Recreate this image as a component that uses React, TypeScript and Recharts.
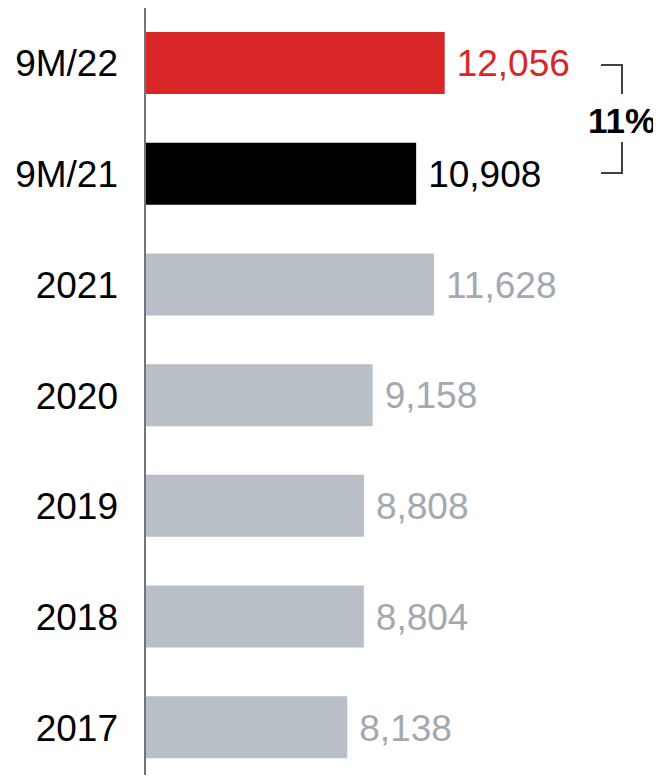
import React from 'react';
import { BarChart, Bar, XAxis, YAxis, Cell, LabelList } from 'recharts';

const categories = ['9M/22', '9M/21', '2021', '2020', '2019', '2018', '2017'];
const values = [12056, 10908, 11628, 9158, 8808, 8804, 8138];
const barColors = ['#d92727', '#000000', '#b8bfc6', '#b8bfc6', '#b8bfc6', '#b8bfc6', '#b8bfc6'];
const labelColors = ['#d92727', '#000000', '#a3a9b0', '#a3a9b0', '#a3a9b0', '#a3a9b0', '#a3a9b0'];
const growthLabel = '11%';

const data = categories.map((c, i) => ({ name: c, value: values[i] }));

const FONT = 'Arial, "Liberation Sans", sans-serif';

const ValueLabel = (props: any) => {
  const { x, y, width, height, index, value } = props;
  return (
    <text
      x={x + width + 12}
      y={y + height / 2}
      dy="0.36em"
      fill={labelColors[index]}
      fontSize={37}
      fontFamily={FONT}
      textAnchor="start"
    >
      {Number(value).toLocaleString('en-US')}
    </text>
  );
};

export default function App() {
  return (
    <div style={{ position: 'relative', width: 661, height: 783, margin: -8, overflow: 'hidden' }}>
      <BarChart
        width={661}
        height={783}
        data={data}
        layout="vertical"
        margin={{ top: 8, right: 168, bottom: 0, left: 8 }}
      >
        <XAxis type="number" domain={[0, 14000]} hide />
        <YAxis
          type="category"
          dataKey="name"
          width={137}
          tickLine={false}
          tickSize={0}
          tickMargin={27}
          axisLine={{ stroke: '#707579', strokeWidth: 2 }}
          tick={{ fill: '#000000', fontSize: 37, fontFamily: FONT }}
          interval={0}
        />
        <Bar dataKey="value" barSize={62} isAnimationActive={false}>
          {data.map((d, i) => (
            <Cell key={d.name} fill={barColors[i]} />
          ))}
          <LabelList dataKey="value" content={<ValueLabel />} />
        </Bar>
      </BarChart>
      <svg
        width={661}
        height={783}
        style={{ position: 'absolute', left: 0, top: 0, pointerEvents: 'none' }}
      >
        <g stroke="#3d4247" strokeWidth={2} fill="none">
          <polyline points="601,65 622,65 622,94" />
          <polyline points="622,142 622,173 601,173" />
        </g>
        <text
          x={622}
          y={133}
          textAnchor="middle"
          fontSize={35}
          fontWeight="bold"
          fontFamily={FONT}
          fill="#000000"
        >
          {growthLabel}
        </text>
      </svg>
    </div>
  );
}
